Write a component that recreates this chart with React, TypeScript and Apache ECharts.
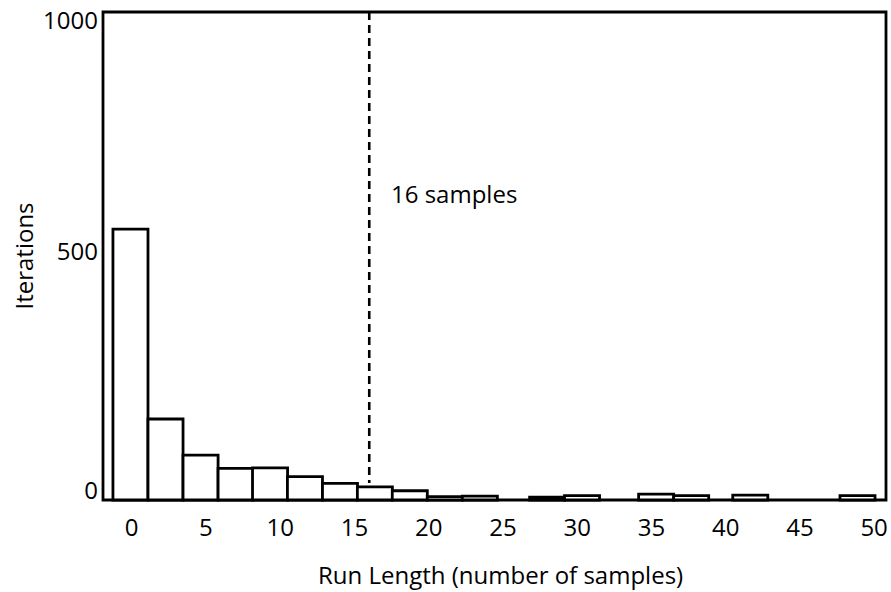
import React, { useEffect, useRef } from "react";
import * as echarts from "echarts";

// Histogram of run lengths: each bin starts at binStart[i] and spans BIN_WIDTH samples
const binStart = [-1.26, 1.1, 3.46, 5.82, 8.14, 10.49, 12.85, 15.2, 17.55, 19.91, 22.27, 26.8, 29.15, 34.14, 36.5, 40.48, 47.7];
const iterationCounts = [555, 166, 92, 65, 66, 48, 34, 27, 19, 7, 8, 6, 9, 12, 9, 10, 9];
const BIN_WIDTH = 2.36;

const xTickValues = [0, 5, 10, 15, 20, 25, 30, 35, 40, 45, 50];
const yTickValues = [0, 500, 1000];

const thresholdSamples = 16;
const thresholdLabel = "16 samples";

const FONT = "'Open Sans', 'Noto Sans', sans-serif";

export default function App() {
  const ref = useRef<HTMLDivElement>(null);

  useEffect(() => {
    if (!ref.current) return;
    const chart = echarts.init(ref.current, undefined, { renderer: "svg" });

    const binData = binStart.map((s, i) => [s, s + BIN_WIDTH, iterationCounts[i]]);
    // the threshold line stops just above the bin it passes through
    const hit = binStart.findIndex((s) => thresholdSamples >= s && thresholdSamples < s + BIN_WIDTH);
    const lineBottom = hit >= 0 ? iterationCounts[hit] : 0;

    chart.setOption({
      animation: false,
      backgroundColor: "#ffffff",
      grid: {
        left: 103,
        right: 5,
        top: 12,
        bottom: 92,
        show: true,
        borderColor: "#000",
        borderWidth: 2.8,
        backgroundColor: "transparent",
      },
      xAxis: {
        type: "value",
        min: -1.93,
        max: 50.8,
        axisLine: { show: false },
        axisTick: { show: false },
        splitLine: { show: false },
        axisLabel: {
          customValues: xTickValues,
          margin: 14,
          color: "#000",
          fontFamily: FONT,
          fontSize: 24,
        },
      },
      yAxis: {
        type: "value",
        min: 0,
        max: 1000,
        axisLine: { show: false },
        axisTick: { show: false },
        splitLine: { show: false },
        axisLabel: {
          customValues: yTickValues,
          margin: 5,
          color: "#000",
          fontFamily: FONT,
          fontSize: 24,
          formatter: (v: number) => (v === 1000 ? "{t|1000}" : v === 0 ? "{b|0}" : "{m|500}"),
          rich: {
            t: { padding: [15, 0, 0, 0], fontFamily: FONT, fontSize: 24, color: "#000" },
            m: { padding: [0, 0, 12, 0], fontFamily: FONT, fontSize: 24, color: "#000" },
            b: { padding: [0, 0, 21, 0], fontFamily: FONT, fontSize: 24, color: "#000" },
          },
        },
      },
      series: [
        {
          type: "custom",
          data: binData,
          encode: { x: [0, 1], y: 2 },
          renderItem: (params: any, api: any) => {
            const p0 = api.coord([api.value(0), api.value(2)]);
            const p1 = api.coord([api.value(1), 0]);
            return {
              type: "rect",
              shape: { x: p0[0], y: p0[1], width: p1[0] - p0[0], height: p1[1] - p0[1] },
              style: { fill: "#ffffff", stroke: "#000", lineWidth: 2.8 },
            };
          },
          z: 2,
        },
        {
          type: "line",
          data: [
            [thresholdSamples, 1000],
            [thresholdSamples, lineBottom + 8],
          ],
          symbol: "none",
          lineStyle: { color: "#000", width: 2.6, type: [8, 5] },
          z: 3,
        },
      ],
      graphic: [
        {
          type: "text",
          left: 391,
          top: 181,
          style: { text: thresholdLabel, fontFamily: FONT, fontSize: 24, fill: "#000" },
        },
        {
          type: "text",
          left: 318,
          top: 562,
          style: { text: "Run Length (number of samples)", fontFamily: FONT, fontSize: 24, fill: "#000" },
        },
        {
          type: "text",
          x: 23,
          y: 256,
          rotation: Math.PI / 2,
          style: {
            text: "Iterations",
            fontFamily: FONT,
            fontSize: 24,
            fill: "#000",
            align: "center",
            verticalAlign: "middle",
          },
        },
      ],
    });

    return () => chart.dispose();
  }, []);

  return (
    <div
      ref={ref}
      style={{ position: "absolute", left: 0, top: 0, width: 891, height: 592, background: "#fff" }}
    />
  );
}
